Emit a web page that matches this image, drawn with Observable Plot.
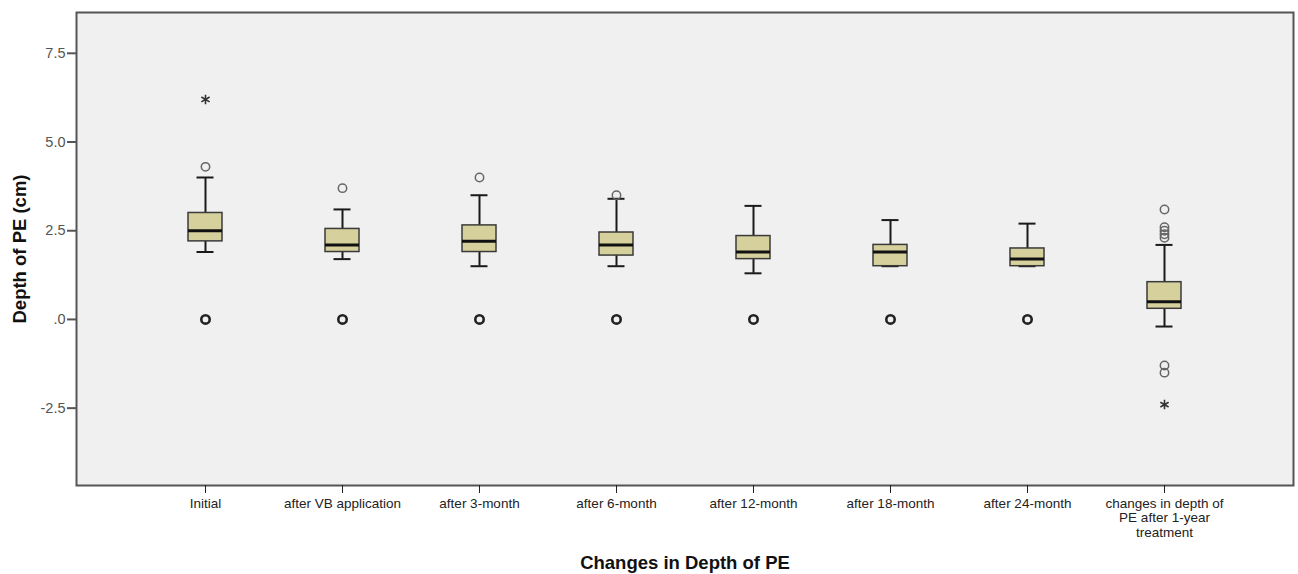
<!DOCTYPE html>
<html>
<head>
<meta charset="utf-8">
<script src="https://cdn.jsdelivr.net/npm/d3@7"></script>
<script src="https://cdn.jsdelivr.net/npm/@observablehq/plot@0.6"></script>
<style>
  html, body { margin: 0; padding: 0; background: #fff; }
  #chart svg { display: block; }
</style>
</head>
<body>
<div id="chart"></div>
<script>
// ---- Data ----
const categories = ["Initial", "after VB application", "after 3-month", "after 6-month",
  "after 12-month", "after 18-month", "after 24-month", "changes in depth of PE after 1-year treatment"];
const xTickLabels = ["Initial", "after VB application", "after 3-month", "after 6-month",
  "after 12-month", "after 18-month", "after 24-month", "changes in depth of\nPE after 1-year\ntreatment"];

const whiskerLow  = [1.9, 1.7, 1.5, 1.5, 1.3, 1.5, 1.5, -0.2];
const q1          = [2.2, 1.9, 1.9, 1.8, 1.7, 1.5, 1.5, 0.3];
const median      = [2.5, 2.1, 2.2, 2.1, 1.9, 1.9, 1.7, 0.5];
const q3          = [3.0, 2.55, 2.65, 2.45, 2.35, 2.1, 2.0, 1.05];
const whiskerHigh = [4.0, 3.1, 3.5, 3.4, 3.2, 2.8, 2.7, 2.1];

// outliers (circles): category index, value, number of overlapping cases
const outlierCat   = [0, 0, 1, 1, 2, 2, 3, 3, 4, 5, 6, 7, 7, 7, 7, 7, 7, 7];
const outlierValue = [4.3, 0, 3.7, 0, 4.0, 0, 3.5, 0, 0, 0, 0, 3.1, 2.6, 2.5, 2.4, 2.3, -1.3, -1.5];
const outlierCount = [1, 3, 1, 3, 1, 3, 1, 3, 3, 3, 3, 1, 1, 1, 1, 1, 1, 1];

// extreme values (asterisks)
const extremeCat   = [0, 7];
const extremeValue = [6.2, -2.4];

const yTicks      = [-2.5, 0, 2.5, 5, 7.5];
const yTickLabels = ["-2.5", ".0", "2.5", "5.0", "7.5"];

const yTitle = "Depth of PE (cm)";
const xTitle = "Changes in Depth of PE";

// ---- Tables built from the arrays ----
const boxes = categories.map((c, i) => ({
  cat: c, lo: whiskerLow[i], q1: q1[i], med: median[i], q3: q3[i], hi: whiskerHigh[i]
}));
const outliers = outlierCat.map((ci, i) => ({cat: categories[ci], value: outlierValue[i], n: outlierCount[i]}));
const extremes = extremeCat.map((ci, i) => ({cat: categories[ci], value: extremeValue[i]}));

const font = "'Liberation Sans', Arial, sans-serif";

const chart = Plot.plot({
  width: 1298,
  height: 574,
  marginLeft: 76,
  marginRight: 5,
  marginTop: 12,
  marginBottom: 89,
  style: {fontFamily: font, background: "#fff", overflow: "visible"},
  x: {domain: categories, paddingInner: 0.7525, paddingOuter: 0.805, label: null},
  y: {domain: [-4.68, 8.65], label: null},
  marks: [
    Plot.frame({fill: "#f0f0f0", stroke: null}),
    // whiskers
    Plot.ruleX(boxes, {x: "cat", y1: "lo", y2: "q1", stroke: "#1a1a1a", strokeWidth: 2}),
    Plot.ruleX(boxes, {x: "cat", y1: "q3", y2: "hi", stroke: "#1a1a1a", strokeWidth: 2}),
    Plot.tickY(boxes, {x: "cat", y: "lo", insetLeft: 8.5, insetRight: 8.5, stroke: "#1a1a1a", strokeWidth: 2}),
    Plot.tickY(boxes, {x: "cat", y: "hi", insetLeft: 8.5, insetRight: 8.5, stroke: "#1a1a1a", strokeWidth: 2}),
    // boxes
    Plot.barY(boxes, {x: "cat", y1: "q1", y2: "q3", fill: "#d6d19c", stroke: "#3a3a3a", strokeWidth: 1.5}),
    Plot.tickY(boxes, {x: "cat", y: "med", stroke: "#111", strokeWidth: 3}),
    // outliers
    Plot.dot(outliers, {
      x: "cat", y: "value", r: 4.2, fill: "none",
      stroke: d => d.n > 1 ? "#222" : "#666",
      strokeWidth: d => d.n > 1 ? 2.6 : 1.5
    }),
    Plot.dot(extremes, {x: "cat", y: "value", symbol: "asterisk", r: 4.5, stroke: "#333", strokeWidth: 1.6}),
    Plot.frame({stroke: "#555", strokeWidth: 2}),
    // axes
    Plot.axisY({
      ticks: yTicks, tickFormat: d => yTickLabels[yTicks.indexOf(d)],
      tickSize: 9, tickPadding: 2, fontSize: 14.5, color: "#555", strokeWidth: 2, label: null
    }),
    Plot.axisX({
      tickFormat: d => xTickLabels[categories.indexOf(d)],
      tickSize: 8, tickPadding: 4, fontSize: 13.5, color: "#222", lineHeight: 1.08, label: null
    }),
    // axis titles
    Plot.text([yTitle], {text: d => d, frameAnchor: "left", dx: -56, rotate: -90,
      textAnchor: "middle", lineAnchor: "middle",
      fontWeight: "bold", fontSize: 18.5, fill: "#111"}),
    Plot.text([xTitle], {text: d => d, frameAnchor: "bottom", dy: 78,
      textAnchor: "middle", lineAnchor: "middle",
      fontWeight: "bold", fontSize: 18.5, fill: "#111"})
  ]
});
document.getElementById("chart").appendChild(chart);
</script>
</body>
</html>
